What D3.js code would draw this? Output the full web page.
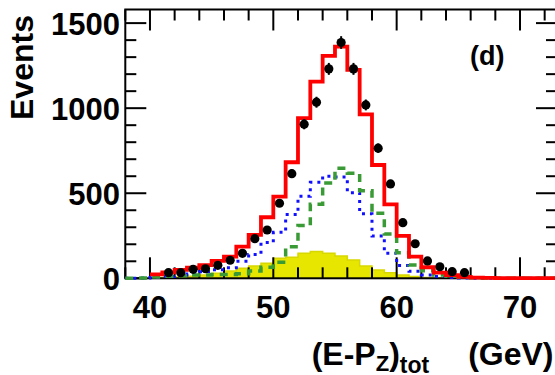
<!DOCTYPE html>
<html>
<head>
<meta charset="utf-8">
<script src="https://cdn.jsdelivr.net/npm/d3@7"></script>
<style>
  html, body { margin: 0; padding: 0; background: #ffffff; }
  svg { display: block; }
  text { font-family: "Liberation Sans", Arial, Helvetica, sans-serif; font-weight: bold; fill: #000; }
</style>
</head>
<body>
<svg id="chart" width="555" height="375"></svg>
<script>
// Lower edges of the 1 GeV bins
const binLow = [38,39,40,41,42,43,44,45,46,47,48,49,50,51,52,53,54,55,56,57,58,59,60,61,62,63,64,65,66,67,68,69,70,71,72];
const binWidth = 1;

// Component predictions (events per bin)
const yellowMC = [0,1,3,5,8,12,19,29,43,59,72,88,118,123,147,157,147,131,108,72,49,33,19,10,5,3,2,1,0,0,0,0,0,0,0];
const blueMC   = [1,2,5,10,18,25,38,50,62,100,140,210,270,375,482,565,600,595,503,380,249,147,75,42,20,10,5,2,1,0,0,0,0,0,0];
const greenMC  = [1,2,8,12,15,20,20,22,22,27,43,65,95,186,310,435,560,647,618,515,382,260,150,78,45,20,12,6,3,2,1,1,1,1,1];
// Total prediction (histogram starts at 40 GeV)
const totalMC  = [null,null,23,35,49,62,78,102,127,186,255,359,480,682,941,1156,1307,1362,1225,964,666,435,249,127,65,33,19,8,4,2,1,1,1,1,1];

// Measured data points at bin centres
const dataX = [41.5,42.5,43.5,44.5,45.5,46.5,47.5,48.5,49.5,50.5,51.5,52.5,53.5,54.5,55.5,56.5,57.5,58.5,59.5,60.5,61.5,62.5,63.5,64.5,65.5];
const dataY = [33,33,53,56,76,106,147,233,284,441,615,906,1035,1231,1386,1231,1019,765,555,327,203,102,68,39,33];

// Axis labelling
const xTickLabels = [40,50,60,70];
const yTickLabels = [0,500,1000,1500];

const svg = d3.select("#chart");
const x = d3.scaleLinear().domain([38, 73]).range([125.3, 557]);
const y = d3.scaleLinear().domain([0, 1580]).range([278.3, 9.5]);

function stepPoints(vals) {
  const pts = binLow.map((b, i) => [b, vals[i]]);
  pts.push([binLow[binLow.length - 1] + binWidth, vals[vals.length - 1]]);
  return pts;
}

const line = d3.line()
  .defined(d => d[1] !== null)
  .x(d => x(d[0])).y(d => y(d[1]))
  .curve(d3.curveStepAfter);

const area = d3.area()
  .x(d => x(d[0])).y0(y(0)).y1(d => y(d[1]))
  .curve(d3.curveStepAfter);

// Filled component
svg.append("path")
  .attr("d", area(stepPoints(yellowMC)))
  .attr("fill", "#e6e600")
  .attr("stroke", "#d8d800")
  .attr("stroke-width", 1.5);

// Frame and ticks
const frame = svg.append("g").attr("stroke", "#000").attr("fill", "none");
const x0 = x(38), x1 = x(73), yb = y(0), yt = y(1580);
frame.append("rect").attr("x", x0).attr("y", yt).attr("width", x1 - x0).attr("height", yb - yt)
  .attr("stroke-width", 2);

const xMinor = d3.range(38, 73.01, 2);
xMinor.forEach(v => {
  const major = v % 10 === 0;
  const len = major ? 21 : 11;
  frame.append("line").attr("x1", x(v)).attr("x2", x(v)).attr("y1", yb).attr("y2", yb - len).attr("stroke-width", 2);
  frame.append("line").attr("x1", x(v)).attr("x2", x(v)).attr("y1", yt).attr("y2", yt + len).attr("stroke-width", 2);
});
const yMinor = d3.range(0, 1580, 100);
yMinor.forEach(v => {
  const major = v % 500 === 0;
  const len = major ? 21 : 11;
  frame.append("line").attr("x1", x0).attr("x2", x0 + len).attr("y1", y(v)).attr("y2", y(v)).attr("stroke-width", 2);
  frame.append("line").attr("x1", x1).attr("x2", x1 - len).attr("y1", y(v)).attr("y2", y(v)).attr("stroke-width", 2);
});

// Component outlines
svg.append("path")
  .attr("d", line(stepPoints(blueMC)))
  .attr("fill", "none").attr("stroke", "#1010ff")
  .attr("stroke-width", 3).attr("stroke-dasharray", "3,5");

svg.append("path")
  .attr("d", line(stepPoints(greenMC)))
  .attr("fill", "none").attr("stroke", "#3a9a36")
  .attr("stroke-width", 3.5).attr("stroke-dasharray", "8,6");

// Total prediction
svg.append("path")
  .attr("d", line(stepPoints(totalMC)))
  .attr("fill", "none").attr("stroke", "#ff0000")
  .attr("stroke-width", 3.8);

// Data with statistical errors
const pts = svg.append("g");
dataX.forEach((cx, i) => {
  const n = dataY[i], e = Math.sqrt(n);
  pts.append("line").attr("x1", x(cx)).attr("x2", x(cx))
    .attr("y1", y(n - e)).attr("y2", y(n + e))
    .attr("stroke", "#000").attr("stroke-width", 2);
  pts.append("circle").attr("cx", x(cx)).attr("cy", y(n)).attr("r", 4.6).attr("fill", "#000");
});

// Tick labels
svg.append("g").selectAll("text").data(xTickLabels).join("text")
  .attr("x", d => x(d)).attr("y", 318)
  .attr("text-anchor", "middle").attr("font-size", 31)
  .text(d => d);

svg.append("g").selectAll("text").data(yTickLabels).join("text")
  .attr("x", 120).attr("y", d => y(d) + 12)
  .attr("text-anchor", "end").attr("font-size", 31)
  .text(d => d);

// Axis titles
svg.append("text")
  .attr("transform", "translate(33.3,120) rotate(-90)")
  .attr("text-anchor", "start").attr("font-size", 32)
  .text("Events");

const xt = svg.append("text").attr("x", 311.7).attr("y", 365).attr("font-size", 32);
xt.append("tspan").text("(E-P");
xt.append("tspan").attr("font-size", 22).attr("dy", 6).text("Z");
xt.append("tspan").attr("dy", -6).text(")");
xt.append("tspan").attr("font-size", 23).attr("dy", 8).text("tot");

svg.append("text").attr("x", 553.5).attr("y", 365)
  .attr("text-anchor", "end").attr("font-size", 32)
  .text("(GeV)");

svg.append("text").attr("x", 470).attr("y", 65).attr("font-size", 27).text("(d)");
</script>
</body>
</html>
